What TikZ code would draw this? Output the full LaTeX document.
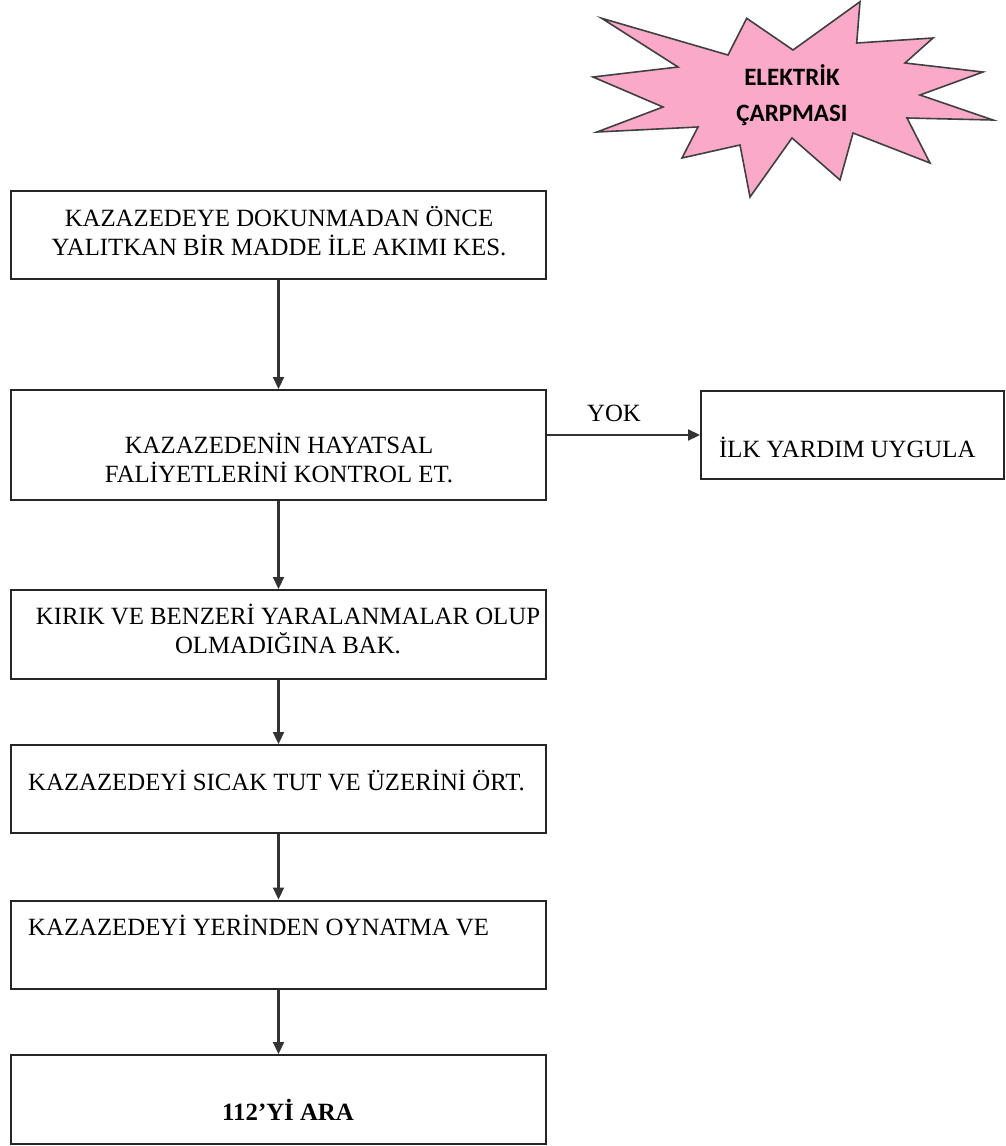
\documentclass[tikz,border=0pt]{standalone}
\usepackage{fontspec}
\setmainfont{Liberation Serif}
\newfontfamily\starfont{Carlito}
\usetikzlibrary{arrows.meta,positioning}
\begin{document}
\begin{tikzpicture}[x=1pt,y=-1pt,
  stepbox/.style={draw=black!85,line width=2pt,rectangle,inner sep=0pt,
    minimum width=535pt,minimum height=88pt},
  txt/.style={font=\fontsize{24.8}{29}\selectfont,align=center,inner sep=0pt},
  ltxt/.style={font=\fontsize{24.8}{29}\selectfont,anchor=west,inner sep=0pt},
  arr/.style={draw=black!80,line width=2.2pt,-{Triangle[length=12pt,width=11pt]}}]
\useasboundingbox (0,0) rectangle (1006,1146);

% burst shape with the title
\filldraw[fill={rgb,255:red,250;green,170;blue,200},draw=black!75,line width=1.6pt,line join=miter]
  (601.7,18.3) -- (728,55) -- (746.7,18.3) -- (793,50) -- (860,1.7) -- (856.7,43)
  -- (933,38) -- (905,63) -- (983,72) -- (920,95) -- (993,120) -- (907,118)
  -- (930,163) -- (853,133) -- (840,180) -- (792,138) -- (750,197) -- (740,145)
  -- (682,158) -- (698,127) -- (597,132) -- (663,107) -- (593,77) -- (678,67) -- cycle;
\node[font=\starfont\bfseries\fontsize{25}{36}\selectfont,align=center,inner sep=0pt]
  (title) at (792,95) {ELEKTRİK\\ÇARPMASI};

% flow boxes
\node[stepbox] (b1) at (278.5,235) {};
\node[stepbox,minimum height=110pt] (b2) at (278.5,445) {};
\node[stepbox,minimum height=89pt] (b3) at (278.5,634.5) {};
\node[stepbox] (b4) at (278.5,789) {};
\node[stepbox] (b5) at (278.5,944.5) {};
\node[stepbox,minimum height=89pt] (b6) at (278.5,1099.5) {};
\node[stepbox,minimum width=303pt] (b7) at (852.5,435) {};

% box texts
\node[txt] (t1) at (279,231) {KAZAZEDEYE DOKUNMADAN ÖNCE\\YALITKAN BİR MADDE İLE AKIMI KES.};
\node[txt] (t2) at (279,458) {KAZAZEDENİN HAYATSAL\\FALİYETLERİNİ KONTROL ET.};
\node[txt] (t3) at (288,629) {KIRIK VE BENZERİ YARALANMALAR OLUP\\OLMADIĞINA BAK.};
\node[ltxt] (t4) at (28,780) {KAZAZEDEYİ SICAK TUT VE ÜZERİNİ ÖRT.};
\node[ltxt] (t5) at (28,925) {KAZAZEDEYİ YERİNDEN OYNATMA VE};
\node[txt,font=\bfseries\fontsize{24.8}{29}\selectfont] (t6) at (288,1110) {112’Yİ ARA};
\node[ltxt] (t7) at (719,447) {İLK YARDIM UYGULA};
\node[txt] (yok) at (614,413) {YOK};

% connectors
\draw[arr] (b1) -- (b2);
\draw[arr] (b2) -- (b3);
\draw[arr] (b3) -- (b4);
\draw[arr] (b4) -- (b5);
\draw[arr] (b5) -- (b6);
\draw[arr] (b7.west -| b2.east) -- (b7.west);
\end{tikzpicture}
\end{document}
